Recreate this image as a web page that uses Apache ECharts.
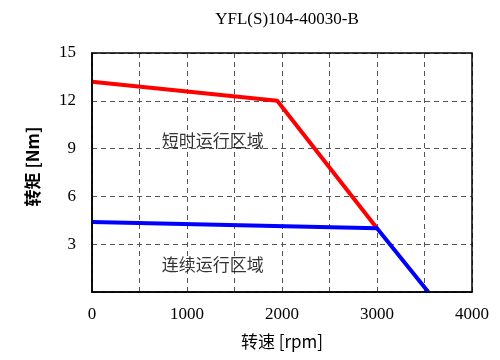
<!DOCTYPE html>
<html><head><meta charset="utf-8">
<script src="https://cdn.jsdelivr.net/npm/echarts@6/dist/echarts.min.js"></script>
<style>html,body{margin:0;padding:0;background:#fff}#c{width:500px;height:360px}</style>
</head><body><div id="c"></div>
<script>
const titleText = 'YFL(S)104-40030-B';
const xTicks = [0, 1000, 2000, 3000, 4000];
const yTicks = [3, 6, 9, 12, 15];
const peakSpeed = [0, 1950, 3000];
const peakTorque = [13.2, 12.0, 4.0];
const ratedSpeed = [0, 3000, 3540];
const ratedTorque = [4.4, 4.0, 0];
const regionNames = ['短时运行区域', '连续运行区域'];
const regionPos = [[1270, 9.5], [1270, 1.75]];

const serif = '"Liberation Serif","DejaVu Serif",serif';
const cjk = '"Noto Sans CJK SC","Liberation Serif",serif';
const chart = echarts.init(document.getElementById('c'));
chart.setOption({
  animation: false,
  title: {text: titleText, left: 282, top: 6, textAlign: 'center',
    textStyle: {fontFamily: serif, fontSize: 17, fontWeight: 'normal', color: '#000'}},
  grid: {left: 92, right: 28, top: 53, bottom: 68},
  xAxis: {type: 'value', min: 0, max: 4000, interval: 500,
    name: '转速 [rpm]', nameLocation: 'middle', nameGap: 41,
    nameTextStyle: {fontFamily: cjk, fontSize: 17, color: '#000'},
    axisLine: {show: true, lineStyle: {color: '#000', width: 1.5}},
    axisTick: {show: false},
    axisLabel: {margin: 14, fontFamily: serif, fontSize: 17, color: '#000',
      formatter: v => xTicks.includes(v) ? String(v) : ''},
    splitLine: {show: true, lineStyle: {type: [5, 4], color: '#555', width: 1}}
  },
  yAxis: {type: 'value', min: 0, max: 15, interval: 3,
    name: '转矩 [Nm]', nameLocation: 'middle', nameGap: 51,
    nameTextStyle: {fontFamily: cjk, fontSize: 17, color: '#000', fontWeight: 'bold',
      padding: [0, 0, 0, 12]},
    axisLine: {show: true, lineStyle: {color: '#000', width: 1.5}},
    axisTick: {show: false},
    axisLabel: {margin: 16, fontFamily: serif, fontSize: 17, color: '#000',
      formatter: v => yTicks.includes(v) ? String(v) : ''},
    splitLine: {show: true, lineStyle: {type: [5, 4], color: '#555', width: 1}}
  },
  graphic: [{type: 'rect', shape: {x: 92, y: 53, width: 380, height: 239},
    style: {fill: 'none', stroke: '#000', lineWidth: 1.5}, z: 100}],
  series: [
    {type: 'line', data: peakSpeed.map((x, i) => [x, peakTorque[i]]), symbol: 'none',
      lineStyle: {color: '#ff0000', width: 4}, z: 3},
    {type: 'line', data: ratedSpeed.map((x, i) => [x, ratedTorque[i]]), symbol: 'none',
      lineStyle: {color: '#0000ff', width: 4}, z: 4},
    {type: 'scatter', symbolSize: 0, silent: true,
      data: regionPos.map((p, i) => ({value: p, name: regionNames[i]})),
      label: {show: true, position: 'inside', formatter: p => p.name,
        fontFamily: cjk, fontSize: 17, color: '#000'}}
  ]
});
</script></body></html>
